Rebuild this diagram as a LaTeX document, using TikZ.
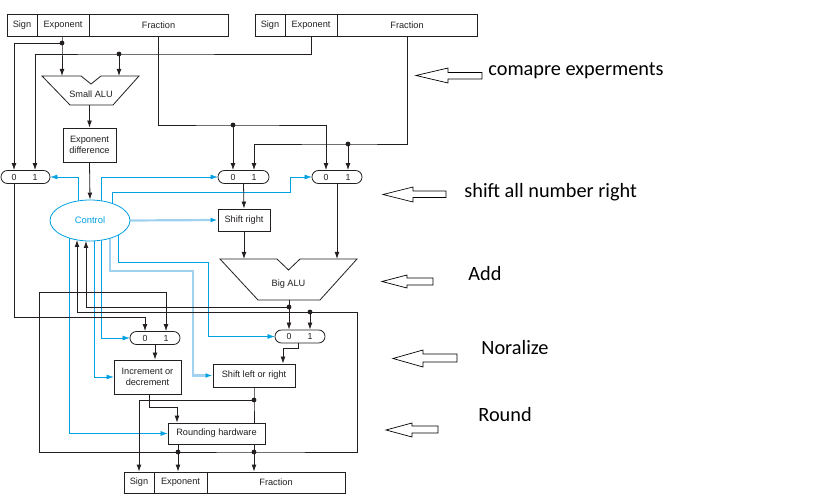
\documentclass[tikz,border=0pt]{standalone}
\usepackage{fontspec}
\setmainfont{Liberation Sans}
\newfontfamily\annfont{Carlito}
\usetikzlibrary{arrows.meta,backgrounds,shapes.geometric,calc}
\definecolor{ctlblue}{RGB}{0,160,227}
\definecolor{ctllight}{RGB}{160,210,240}
\definecolor{ink}{RGB}{35,31,32}
\begin{document}
\begin{tikzpicture}[x=1pt,y=-1pt,line width=0.8pt,
 lbl/.style={font=\fontsize{9.2}{11}\selectfont, text=ink, inner sep=0pt},
 field/.style={lbl, draw=ink, minimum height=22pt},
 unit/.style={lbl, draw=ink, fill=white, align=center},
 muxbox/.style={draw=ink, fill=white, rounded corners=6.4pt, minimum height=13pt, inner sep=0pt},
 muxdigit/.style={font=\fontsize{8.8}{10}\selectfont, text=ink, inner sep=0pt},
 wire/.style={draw=ink, -{Latex[length=7pt,width=4.8pt]}},
 plain/.style={draw=ink},
 cwire/.style={draw=ctlblue, -{Latex[length=7pt,width=4.8pt]}},
 lwire/.style={draw=ctllight, line width=2.2pt, -{Latex[length=7pt,width=4.8pt,color=ctlblue]}},
 jdot/.style={fill=ink},
 note/.style={font=\annfont\fontsize{20.3}{24}\selectfont, anchor=mid west, inner sep=0pt, text=black},
 hollow/.style={draw=black, line width=0.7pt, fill=white, line join=miter},
]
\useasboundingbox (0,0) rectangle (819,502);

% registers
\node[field, minimum width=30pt] (sL) at (22,25) {Sign};
\node[field, minimum width=52pt] (eL) at (63,25) {Exponent};
\node[field, minimum width=139pt] (fL) at (158.5,25) {Fraction};
\node[field, minimum width=30pt] (sR) at (270,25) {Sign};
\node[field, minimum width=52pt] (eR) at (311,25) {Exponent};
\node[field, minimum width=140pt] (fR) at (407,25) {Fraction};
\node[field, minimum width=30pt, minimum height=21pt] (sB) at (139,482.5) {Sign};
\node[field, minimum width=53pt, minimum height=21pt] (eB) at (180.5,482.5) {Exponent};
\node[field, minimum width=138pt, minimum height=21pt] (fB) at (276,482.5) {Fraction};

% small ALU
\draw[draw=ink, fill=white] (42,76) -- (81,76) -- (91,84) -- (101,76) -- (139,76) -- (113,105) -- (70,105) -- cycle;
\node[lbl] (salu) at (91,94) {Small ALU};
\coordinate (saluL) at (62,76);
\coordinate (saluR) at (119,76);
\coordinate (saluOut) at (89.5,105);

% big ALU
\draw[draw=ink, fill=white] (220,259) -- (277,259) -- (288.5,270) -- (300,259) -- (357,259) -- (320,300) -- (258,300) -- cycle;
\node[lbl] (balu) at (288.5,284) {Big ALU};
\coordinate (baluL) at (244,259);
\coordinate (baluR) at (337,259);
\coordinate (baluOut) at (289,300);

% units
\node[unit, minimum width=53pt, minimum height=34pt] (expd) at (89.5,145) {Exponent\\difference};
\node[unit, minimum width=52pt, minimum height=22pt] (sr) at (244,220) {Shift right};
\node[unit, minimum width=67pt, minimum height=34pt] (inc) at (147.5,377) {Increment or\\decrement};
\node[unit, minimum width=82pt, minimum height=23pt] (slr) at (254,375.5) {Shift left or right};
\node[unit, minimum width=97pt, minimum height=21pt] (rnd) at (216.5,433.5) {Rounding hardware};

% muxes
\node[muxbox, minimum width=49pt] (muxA) at (25.5,177) {};
\node[muxbox, minimum width=51pt] (muxB) at (243.5,177) {};
\node[muxbox, minimum width=50pt] (muxC) at (337,177) {};
\node[muxbox, minimum width=50pt] (muxE) at (155,338) {};
\node[muxbox, minimum width=50pt] (muxD) at (300,336.5) {};
\node[muxdigit] (muxA0) at (14,177) {0};
\node[muxdigit] (muxA1) at (35,177) {1};
\node[muxdigit] (muxB0) at (233,177) {0};
\node[muxdigit] (muxB1) at (254,177) {1};
\node[muxdigit] (muxC0) at (326,177) {0};
\node[muxdigit] (muxC1) at (348,177) {1};
\node[muxdigit] (muxE0) at (145,338) {0};
\node[muxdigit] (muxE1) at (166,338) {1};
\node[muxdigit] (muxD0) at (289,336.5) {0};
\node[muxdigit] (muxD1) at (310,336.5) {1};

% control
\node[ellipse, draw=ctlblue, fill=white, minimum width=80pt, minimum height=41pt, inner sep=0pt,
      font=\fontsize{9.4}{11}\selectfont, text=ctlblue] (ctl) at (90,220.5) {Control};
\coordinate (ctlIn1) at (77,240);
\coordinate (ctlIn2) at (86,241);

% junctions
\coordinate (jEL) at (62,43);
\coordinate (jER) at (119,54);
\coordinate (jFL) at (233,125);
\coordinate (jFR) at (348,144);
\coordinate (jBA) at (289,307);
\coordinate (jFB) at (310,312);
\coordinate (jRE) at (178,452);
\coordinate (jRF) at (254,452);
\coordinate (jSL) at (254,400);
\coordinate (wA) at (39,292);
\coordinate (wB) at (357,312);

% black wiring
\draw[wire] (eL.south -| jEL) -- (jEL) -- (saluL);
\draw[wire] (jEL) -| (muxA0 |- muxA.north);
\draw[wire] (eR.south) |- (jER) -| (muxA1 |- muxA.north);
\draw[wire] (jER) -- (saluR);
\draw[wire] (saluOut) -- (expd.north);
\draw[wire] (expd.south) -- (ctl.north);
\draw[wire] (fL.south) |- (jFL) -| (muxC0 |- muxC.north);
\draw[wire] (jFL) -- (muxB0 |- muxB.north);
\draw[wire] (fR.south) |- (jFR) -| (muxB1 |- muxB.north);
\draw[wire] (jFR) -- (muxC1 |- muxC.north);
\draw[wire] (muxA0 |- muxA.south) |- ($(muxE0 |- muxE.north)+(0,-14)$) -- (muxE0 |- muxE.north);
\draw[wire] (muxB.south) -- (sr.north);
\draw[wire] (sr.south) -- (baluL);
\draw[wire] (muxC.south) -- (baluR);
\draw[plain] (baluOut) -- (jBA);
\draw[wire] (jBA) -- (muxD0 |- muxD.north);
\draw[wire] (jBA) -| (ctlIn2);
\draw[wire] (rnd.south -| jRE) -- (jRE |- eB.north);
\draw[wire] (rnd.south -| jRF) -- (jRF |- fB.north);
\draw[wire] (jRE) -| (wA) -| (muxE1 |- muxE.north);
\draw[wire] (jRE) -- (jRF) -| (wB) -| (ctlIn1);
\draw[wire] (jFB) -- (muxD1 |- muxD.north);
\draw[wire] (muxE.south) -- (inc.north -| muxE.south);
\draw[wire] ([xshift=-2pt]muxD.south) -- ++(0,5) -| ([xshift=29pt]slr.north);
\draw[plain] (slr.south) -- (jSL) -- (jSL |- rnd.north);
\draw[wire] (jSL) -| (sB.north);
\draw[wire] ([xshift=1.5pt]inc.south) -- ++(0,13) -| ([xshift=-39.5pt]rnd.north);

% dots
\foreach \j in {jEL,jER,jFL,jFR,jBA,jFB,jRE,jRF,jSL} \fill[jdot] (\j) circle (2.4pt);

% control wiring (behind the ellipse)
\begin{scope}[on background layer]
\draw[cwire] ([xshift=-12pt]ctl.center) |- (muxA.east);
\draw[cwire] ([xshift=11pt]ctl.center) |- (muxB.west);
\draw[cwire] ([xshift=22pt]ctl.center) |- (290,192) |- (muxC.west);
\draw[lwire] (ctl.east) -- (sr.west);
\draw[lwire] ([xshift=20pt]ctl.center) |- (193,271) |- (slr.west);
\draw[cwire] ([xshift=28pt]ctl.center) |- (208,262) |- (muxD.west);
\draw[cwire] ([xshift=-21pt]ctl.center) |- (rnd.west);
\draw[cwire] ([xshift=4pt]ctl.center) |- (inc.west);
\draw[cwire] ([xshift=11pt]ctl.center) |- (muxE.west);
\end{scope}

% annotations
\draw[hollow] (416,75.5) -- (448,68) -- (448,72.5) -- (482,72.5) -- (482,79) -- (448,79) -- (448,83) -- cycle;
\draw[hollow] (383,194.5) -- (413,187) -- (413,191) -- (446,191) -- (446,197.5) -- (413,197.5) -- (413,202) -- cycle;
\draw[hollow] (382,281.5) -- (407,275) -- (407,278) -- (433,278) -- (433,285) -- (407,285) -- (407,288) -- cycle;
\draw[hollow] (393,358.5) -- (423,350) -- (423,354) -- (457,354) -- (457,362) -- (423,362) -- (423,367) -- cycle;
\draw[hollow] (386,430) -- (412,423) -- (412,426) -- (438,426) -- (438,433) -- (412,433) -- (412,437) -- cycle;
\node[note] (n1) at (488,73) {comapre experments};
\node[note] (n2) at (464,195) {shift all number right};
\node[note] (n3) at (468,278) {Add};
\node[note] (n4) at (481,352) {Noralize};
\node[note] (n5) at (478,419) {Round};
\end{tikzpicture}
\end{document}
